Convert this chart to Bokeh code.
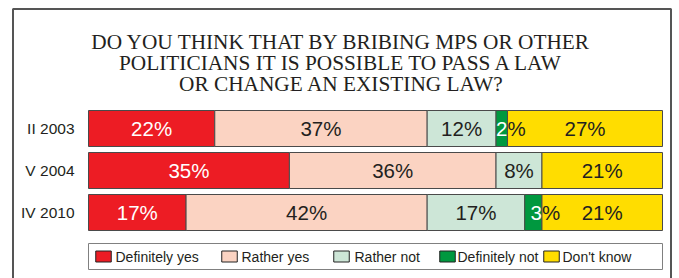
from bokeh.plotting import figure
from bokeh.models import Range1d, ColumnDataSource
from bokeh.core.properties import value
from bokeh.embed import file_html
from bokeh.resources import INLINE

# ---- data ----
periods = ["II 2003", "V 2004", "IV 2010"]
definitely_yes = [22, 35, 17]
rather_yes = [37, 36, 42]
rather_not = [12, 8, 17]
definitely_not = [2, 0, 3]
dont_know = [27, 21, 21]
series_names = ["Definitely yes", "Rather yes", "Rather not", "Definitely not", "Don't know"]
series_colors = ["#ED1C24", "#FBD3C2", "#CDE6D7", "#00983F", "#FFDD00"]
title_lines = ["DO YOU THINK THAT BY BRIBING MPS OR OTHER",
               "POLITICIANS IT IS POSSIBLE TO PASS A LAW",
               "OR CHANGE AN EXISTING LAW?"]

# ---- layout (pixel positions on the page) ----
W, H = 679, 278
BAR_L, BAR_R = 88.0, 662.0          # pixel extent of 0..100 %
PX = (BAR_R - BAR_L) / 100.0
def sx(px):
    return (px - BAR_L) / PX

DARK = "#231F20"
SANS = value("Liberation Sans")
SERIF = value("Liberation Serif")

p = figure(width=W, height=H, output_backend="svg", toolbar_location=None,
           x_range=Range1d(sx(0), sx(W)), y_range=Range1d(H, 0),
           min_border=0, outline_line_color=None)
p.axis.visible = False
p.grid.visible = False
p.background_fill_color = "white"
p.border_fill_color = "white"

# outer frame
p.quad(left=[sx(12.5)], right=[sx(670.5)], top=[8.5], bottom=[H + 20],
       fill_color=None, line_color="#555555", line_width=2)

# title
p.text(x=[sx(341)] * 3, y=[41.7 + 21 * i for i in range(3)], text=title_lines,
       text_font=SERIF, text_font_size="21.3px", text_align="center",
       text_baseline="alphabetic", text_color=DARK)

# bars
row_y0, row_step, bar_h = 128, 42, 36
ys = [row_y0 + row_step * i for i in range(len(periods))]
all_series = [definitely_yes, rather_yes, rather_not, definitely_not, dont_know]
lefts = [0.0] * len(periods)
sources = []
for k, (vals, col) in enumerate(zip(all_series, series_colors)):
    rights = [l + v for l, v in zip(lefts, vals)]
    idx = [i for i, v in enumerate(vals) if v > 0]
    src = ColumnDataSource(dict(y=[ys[i] for i in idx], left=[lefts[i] for i in idx],
                                right=[rights[i] for i in idx],
                                mid=[(lefts[i] + rights[i]) / 2 for i in idx],
                                lab=[f"{vals[i]}%" for i in idx],
                                num=[f"{vals[i]}" for i in idx],
                                pct=["%" for i in idx]))
    p.hbar(y="y", left="left", right="right", height=bar_h, source=src,
           fill_color=col, line_color="#4a4a4a", line_width=1)
    sources.append(src)
    lefts = rights

# value labels (drawn after all bars)
for k, src in enumerate(sources):
    if k == 3:
        # narrow segment: number inside (white), percent sign outside
        p.text(x="right", y="y", text="num", source=src, text_font=SANS,
               text_font_size="20.5px", text_align="right", text_baseline="middle",
               text_color="white")
        p.text(x="right", y="y", text="pct", source=src, text_font=SANS,
               text_font_size="20.5px", text_align="left", text_baseline="middle",
               text_color=DARK)
    else:
        p.text(x="mid", y="y", text="lab", source=src, text_font=SANS,
               text_font_size="20.5px", text_align="center", text_baseline="middle",
               text_color="white" if k == 0 else DARK)

# category labels
p.text(x=[sx(74)] * len(periods), y=ys, text=periods, text_font=SANS,
       text_font_size="15.5px", text_align="right", text_baseline="middle",
       text_color=DARK)

# legend
p.quad(left=[0], right=[100], top=[243], bottom=[269], fill_color="white",
       line_color="#808080", line_width=1)
sw_px = [95, 221, 333, 439, 543]
tx_px = [115, 241, 354, 457, 562]
ly = 256
p.rect(x=[sx(s + 8) for s in sw_px], y=[ly] * 5, width=[15.5 / PX] * 5, height=[11] * 5,
       fill_color=series_colors, line_color="#222222", line_width=1)
p.text(x=[sx(t) for t in tx_px], y=[ly] * 5, text=series_names, text_font=SANS,
       text_font_size="14px", text_align="left", text_baseline="middle",
       text_color=DARK)

open("out.html", "w").write(file_html(p, INLINE))
